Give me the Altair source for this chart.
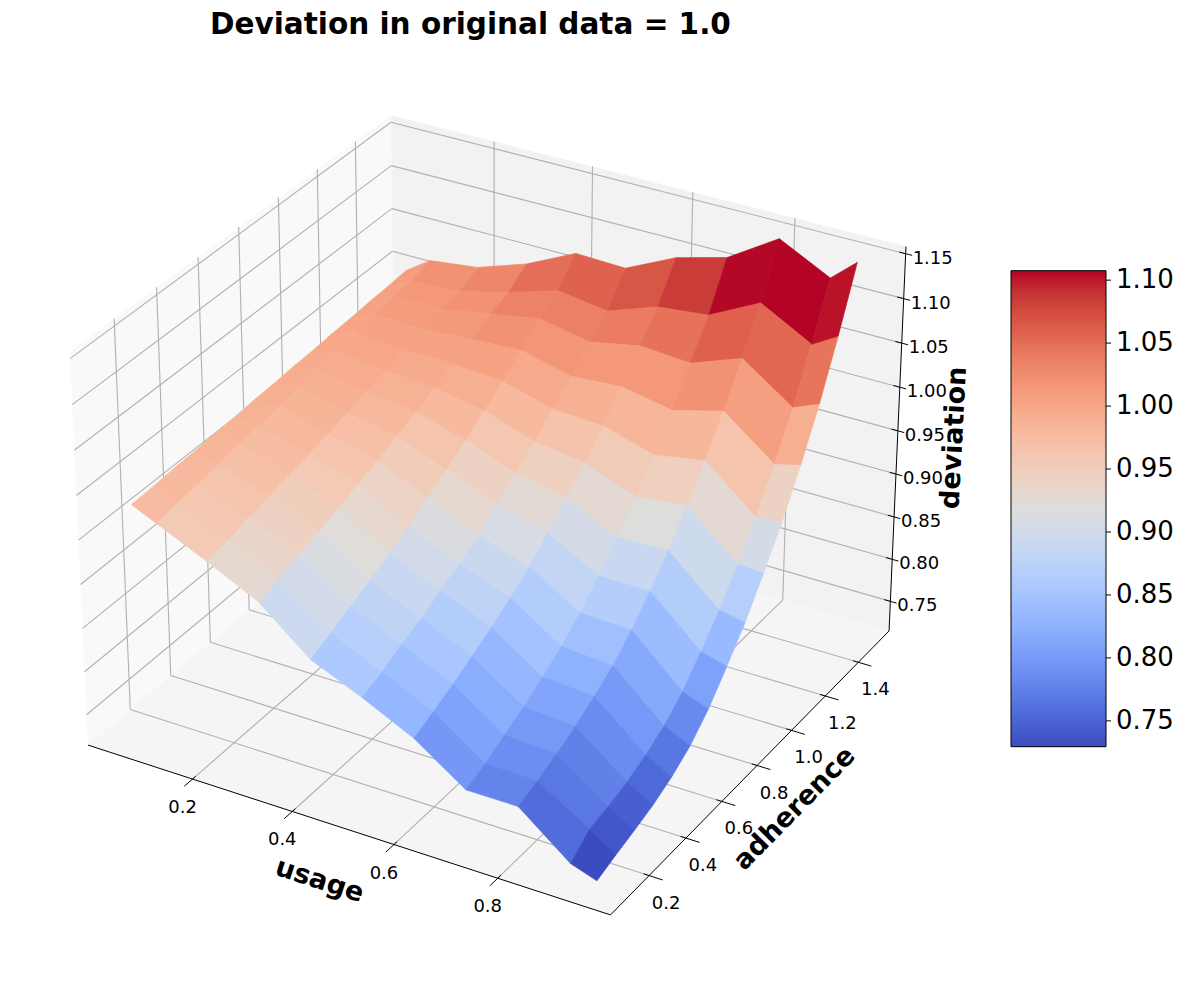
import numpy as np
import pandas as pd
import altair as alt

# ---------------- data ----------------
TITLE = "Deviation in original data = 1.0"
X_TITLE = "usage"
Y_TITLE = "adherence"
Z_TITLE = "deviation"

USAGE = [0.05, 0.1, 0.2, 0.3, 0.4, 0.5, 0.6, 0.7, 0.8, 0.9, 0.95]
ADHERENCE = [0.1, 0.2, 0.3, 0.4, 0.5, 0.6, 0.7, 0.8, 0.9, 1.0, 1.1, 1.2, 1.3, 1.4, 1.5]

# one row per adherence value, one column per usage value
DEVIATION = [
    [0.981, 0.968, 0.942, 0.914, 0.867, 0.842, 0.814, 0.774, 0.774, 0.728, 0.718],
    [0.982, 0.972, 0.947, 0.921, 0.877, 0.851, 0.824, 0.783, 0.782, 0.746, 0.726],
    [0.984, 0.975, 0.953, 0.929, 0.888, 0.862, 0.835, 0.795, 0.792, 0.751, 0.733],
    [0.985, 0.979, 0.958, 0.936, 0.898, 0.872, 0.847, 0.807, 0.803, 0.758, 0.741],
    [0.987, 0.983, 0.964, 0.944, 0.910, 0.884, 0.860, 0.821, 0.817, 0.768, 0.752],
    [0.988, 0.986, 0.969, 0.953, 0.921, 0.896, 0.874, 0.836, 0.832, 0.781, 0.767],
    [0.990, 0.990, 0.975, 0.961, 0.935, 0.910, 0.890, 0.855, 0.853, 0.800, 0.789],
    [0.991, 0.994, 0.981, 0.971, 0.949, 0.926, 0.910, 0.878, 0.878, 0.826, 0.818],
    [0.993, 0.998, 0.987, 0.980, 0.964, 0.943, 0.931, 0.903, 0.905, 0.854, 0.849],
    [0.994, 1.001, 0.994, 0.990, 0.980, 0.961, 0.953, 0.931, 0.937, 0.887, 0.886],
    [0.996, 1.005, 1.000, 1.000, 0.996, 0.980, 0.977, 0.960, 0.970, 0.922, 0.925],
    [0.997, 1.009, 1.007, 1.011, 1.014, 1.000, 1.004, 0.993, 1.008, 0.964, 0.971],
    [0.999, 1.013, 1.014, 1.023, 1.033, 1.022, 1.033, 1.029, 1.050, 1.010, 1.022],
    [1.000, 1.014, 1.017, 1.031, 1.048, 1.040, 1.060, 1.066, 1.095, 1.064, 1.081],
    [1.002, 1.021, 1.028, 1.047, 1.074, 1.072, 1.099, 1.114, 1.150, 1.121, 1.146],
]

USAGE_TICKS = [0.2, 0.4, 0.6, 0.8]
ADHERENCE_TICKS = [0.2, 0.4, 0.6, 0.8, 1.0, 1.2, 1.4]
DEVIATION_TICKS = [0.75, 0.80, 0.85, 0.90, 0.95, 1.00, 1.05, 1.10, 1.15]
COLORBAR_TICKS = [0.75, 0.80, 0.85, 0.90, 0.95, 1.00, 1.05, 1.10]

# axis limits of the 3D box
XLIM = (-0.014, 1.013)
YLIM = (-0.005, 1.59)
ZLIM = (0.7145, 1.158)

# coolwarm colour map
COOLWARM = ["#3b4cc0", "#445acc", "#4d68d7", "#5775e1", "#6282ea", "#6c8ef1", "#779af7",
            "#82a5fb", "#8db0fe", "#98b9ff", "#a3c2ff", "#aec9fd", "#b8d0f9", "#c2d5f4",
            "#ccd9ee", "#d5dbe6", "#dddddd", "#e5d8d1", "#ecd3c5", "#f1ccb9", "#f5c4ad",
            "#f7bba0", "#f7b194", "#f7a687", "#f49a7b", "#f18d6f", "#ec7f63", "#e57058",
            "#de604d", "#d55042", "#cb3e38", "#c0282f", "#b40426"]

FONT = "DejaVu Sans"

# ---------------- 3D view (elev 30, azim -60, perspective) ----------------
BOX = np.array([4.0, 4.0, 3.0])
BOX = BOX * 1.8294640721620434 / np.linalg.norm(BOX)
ELEV, AZIM, DIST = np.deg2rad(30.0), np.deg2rad(-60.0), 10.0
VIEW = np.array([np.cos(ELEV) * np.cos(AZIM), np.cos(ELEV) * np.sin(AZIM), np.sin(ELEV)])
EYE = 0.5 * BOX + DIST * VIEW
W = VIEW / np.linalg.norm(VIEW)
U = np.cross([0.0, 0.0, 1.0], W)
U = U / np.linalg.norm(U)
V = np.cross(W, U)

K = 5240.0            # projection scale (px per projected unit)
TOP_PAD = 70
TX, TY = 487.6, 488.6 - TOP_PAD
PROJ = dict(type="identity", reflectY=True, scale=K, translate=[TX, TY])

# colour bar placement (view pixels)
CB_X, CB_Y, CB_LEN, CB_W = 1003, 270.7 - 8 - TOP_PAD, 476, 95
CB_STEPS = 256


def project(x, y, z):
    p = np.array([
        (x - XLIM[0]) / (XLIM[1] - XLIM[0]) * BOX[0],
        (y - YLIM[0]) / (YLIM[1] - YLIM[0]) * BOX[1],
        (z - ZLIM[0]) / (ZLIM[1] - ZLIM[0]) * BOX[2],
    ]) - EYE
    depth = -float(p @ W)
    return float(p @ U) / depth, float(p @ V) / depth, depth


def shift(pt, dx, dy):
    return pt[0] + dx / K, pt[1] - dy / K


def from_view(xv, yv):
    return (xv - TX) / K, (TY - yv) / K


def feat_line(*pts):
    return {"type": "Feature",
            "geometry": {"type": "LineString", "coordinates": [[p[0], p[1]] for p in pts]},
            "properties": {}}


def feat_poly(pts2, props):
    ring = [[p[0], p[1]] for p in pts2]
    ring.append(ring[0])
    return {"type": "Feature", "geometry": {"type": "Polygon", "coordinates": [ring]},
            "properties": props}


def geo_line(p, q):
    return feat_line(project(*p), project(*q))


def geo_poly(pts, props):
    pr = [project(*p) for p in pts]
    return feat_poly(pr, props), float(np.mean([q[2] for q in pr]))


x0, x1 = XLIM
y0, y1 = YLIM
z0, z1 = ZLIM
xr, yr = x1 - x0, y1 - y0

# panes
floor_pane = geo_poly([(x0, y0, z0), (x1, y0, z0), (x1, y1, z0), (x0, y1, z0)], {})[0]
left_pane = geo_poly([(x0, y0, z0), (x0, y1, z0), (x0, y1, z1), (x0, y0, z1)], {})[0]
back_pane = geo_poly([(x0, y1, z0), (x1, y1, z0), (x1, y1, z1), (x0, y1, z1)], {})[0]

# grid lines
grid_feats = []
for t in USAGE_TICKS:
    grid_feats.append(geo_line((t, y0, z0), (t, y1, z0)))
    grid_feats.append(geo_line((t, y1, z0), (t, y1, z1)))
for t in ADHERENCE_TICKS:
    grid_feats.append(geo_line((x0, t, z0), (x1, t, z0)))
    grid_feats.append(geo_line((x0, t, z0), (x0, t, z1)))
for t in DEVIATION_TICKS:
    grid_feats.append(geo_line((x0, y0, t), (x0, y1, t)))
    grid_feats.append(geo_line((x0, y1, t), (x1, y1, t)))

# axis lines and ticks
axis_feats = [
    geo_line((x0, y0, z0), (x1, y0, z0)),
    geo_line((x1, y0, z0), (x1, y1, z0)),
    geo_line((x1, y1, z0), (x1, y1, z1)),
]
for t in USAGE_TICKS:
    axis_feats.append(geo_line((t, y0 - 0.025 * yr, z0), (t, y0 + 0.01 * yr, z0)))
for t in ADHERENCE_TICKS:
    axis_feats.append(geo_line((x1 - 0.01 * xr, t, z0), (x1 + 0.025 * xr, t, z0)))
for t in DEVIATION_TICKS:
    axis_feats.append(geo_line((x1 - 0.012 * xr, y1, t), (x1 + 0.012 * xr, y1, t)))

# surface facets, sorted far to near
Z = DEVIATION
facets = []
for i in range(len(ADHERENCE) - 1):
    for j in range(len(USAGE) - 1):
        idx = [(j, i), (j + 1, i), (j + 1, i + 1), (j, i + 1)]
        pts = [(USAGE[a], ADHERENCE[b], Z[b][a]) for a, b in idx]
        zmean = float(np.mean([p[2] for p in pts]))
        facets.append(geo_poly(pts, {"z": zmean}))
facets.sort(key=lambda t: -t[1])
surface_feats = [f for f, _ in facets]
zmeans = [f["properties"]["z"] for f in surface_feats]
vmin, vmax = min(zmeans), max(zmeans)
cmap_domain = [float(v) for v in np.linspace(vmin, vmax, len(COOLWARM))]

# colour bar: strips sampled over [vmin, vmax] (slightly overlapping), outline, ticks, labels
cbar_feats = []
for k in range(CB_STEPS):
    ya = min(CB_Y + CB_LEN, CB_Y + (1 - k / CB_STEPS) * CB_LEN + 0.6)
    yb = max(CB_Y, CB_Y + (1 - (k + 1) / CB_STEPS) * CB_LEN - 0.6)
    val = vmin + (k + 0.5) / CB_STEPS * (vmax - vmin)
    cbar_feats.append(feat_poly([from_view(CB_X, ya), from_view(CB_X + CB_W, ya),
                                 from_view(CB_X + CB_W, yb), from_view(CB_X, yb)],
                                {"z": float(val)}))
axis_feats.append(feat_line(from_view(CB_X, CB_Y), from_view(CB_X + CB_W, CB_Y),
                            from_view(CB_X + CB_W, CB_Y + CB_LEN),
                            from_view(CB_X, CB_Y + CB_LEN), from_view(CB_X, CB_Y)))
rows = []
for t in COLORBAR_TICKS:
    yv = CB_Y + (vmax - t) / (vmax - vmin) * CB_LEN
    axis_feats.append(feat_line(from_view(CB_X + CB_W, yv), from_view(CB_X + CB_W + 5, yv)))
    lon, lat = from_view(CB_X + CB_W + 10, yv)
    rows.append({"lon": lon, "lat": lat, "label": f"{t:.2f}"})
cblab = pd.DataFrame(rows)

# tick labels
rows = []
for t in USAGE_TICKS:
    lon, lat = shift(project(t, y0, z0), -10, 29)
    rows.append({"lon": lon, "lat": lat, "label": f"{t:.1f}"})
xlab = pd.DataFrame(rows)
rows = []
for t in ADHERENCE_TICKS:
    lon, lat = shift(project(x1, t, z0), 17, 28)
    rows.append({"lon": lon, "lat": lat, "label": f"{t:.1f}"})
ylab = pd.DataFrame(rows)
rows = []
for t in DEVIATION_TICKS:
    lon, lat = shift(project(x1, y1, t), 27, 5)
    rows.append({"lon": lon, "lat": lat, "label": f"{t:.2f}"})
zlab = pd.DataFrame(rows)

xm = shift(project((x0 + x1) / 2, y0, z0), -23, 53)
ym = shift(project(x1, (y0 + y1) / 2, z0), 39, 42)
zm = shift(project(x1, y1, (z0 + z1) / 2), 57, -5)


def text_layer(df, size, weight="normal", angle=0, align="center"):
    return alt.Chart(df).mark_text(
        font=FONT, fontSize=size, fontWeight=weight, angle=angle,
        align=align, baseline="middle", color="black",
    ).encode(longitude="lon:Q", latitude="lat:Q", text="label:N").project(**PROJ)


def pane_layer(feat, colour):
    return alt.Chart(alt.Data(values=[feat])).mark_geoshape(
        fill=colour, strokeWidth=0
    ).encode(fillOpacity=alt.value(1)).project(**PROJ)


def coloured_layer(feats, width):
    sc = alt.Scale(domain=cmap_domain, range=COOLWARM, interpolate="rgb")
    return alt.Chart(alt.Data(values=feats)).mark_geoshape(
        strokeWidth=width, strokeJoin="round"
    ).encode(
        fill=alt.Fill("properties.z:Q", scale=sc, legend=None),
        stroke=alt.Stroke("properties.z:Q", scale=sc, legend=None),
    ).project(**PROJ)


grid = alt.Chart(alt.Data(values=grid_feats)).mark_geoshape(
    filled=False, stroke="#b0b0b0", strokeWidth=1.1
).encode(strokeOpacity=alt.value(1)).project(**PROJ)

axes = alt.Chart(alt.Data(values=axis_feats)).mark_geoshape(
    filled=False, stroke="black", strokeWidth=1.0
).encode(strokeOpacity=alt.value(1)).project(**PROJ)

layers = [
    pane_layer(floor_pane, "#f5f5f5"), pane_layer(left_pane, "#f9f9f9"),
    pane_layer(back_pane, "#f2f2f2"),
    grid,
    coloured_layer(surface_feats, 0.7),
    coloured_layer(cbar_feats, 0),
    axes,
    text_layer(xlab, 18), text_layer(ylab, 18), text_layer(zlab, 18),
    text_layer(cblab, 26, align="left"),
    text_layer(pd.DataFrame([{"lon": xm[0], "lat": xm[1], "label": X_TITLE}]), 27, "bold", 18),
    text_layer(pd.DataFrame([{"lon": ym[0], "lat": ym[1], "label": Y_TITLE}]), 27, "bold", 314.5),
    text_layer(pd.DataFrame([{"lon": zm[0], "lat": zm[1], "label": Z_TITLE}]), 27, "bold", 273),
]

chart = alt.layer(*layers).properties(
    width=1184,
    height=984 - TOP_PAD,
    padding={"left": 0, "top": TOP_PAD, "right": 0, "bottom": 0},
    autosize=alt.AutoSizeParams(type="none"),
    background="white",
    title=alt.TitleParams(
        text=TITLE, frame="group", anchor="start", orient="top", dx=202, offset=15,
        baseline="alphabetic", font=FONT, fontSize=29.5, fontWeight="bold", color="black",
    ),
).configure_view(strokeWidth=0)

chart.save("out.html", embed_options={"renderer": "svg", "actions": False})
